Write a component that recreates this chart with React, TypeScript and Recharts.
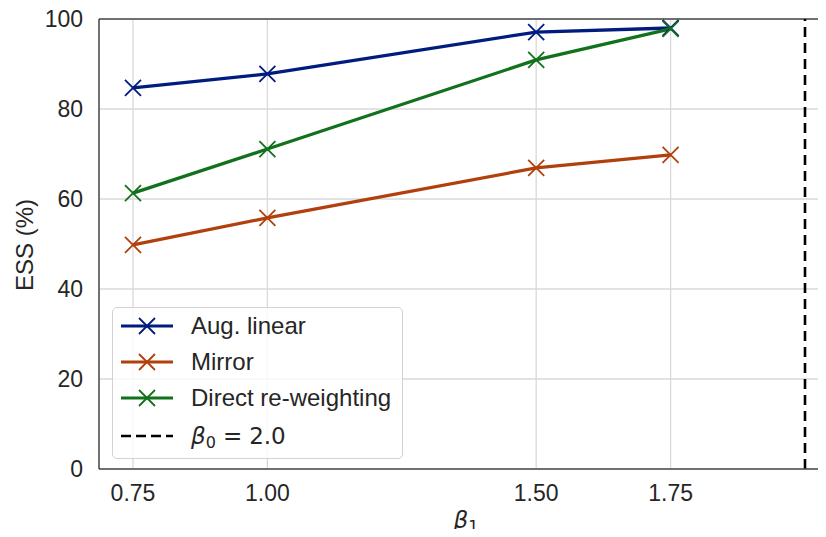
import React from 'react';
import { LineChart, Line, XAxis, YAxis, CartesianGrid, ReferenceLine, Legend } from 'recharts';

// beta_1 values on the x axis
const betas = [0.75, 1.0, 1.5, 1.75];
// ESS (%) per method
const augLinear = [84.7, 87.8, 97.1, 98.0];
const mirror = [49.8, 55.8, 66.9, 69.8];
const direct = [61.3, 71.1, 90.9, 97.8];

const xTicks = [0.75, 1.0, 1.5, 1.75];
const yTicks = [0, 20, 40, 60, 80, 100];
const beta0 = 2.0;

const series = [
  { key: 'aug', name: 'Aug. linear', color: '#001c7f' },
  { key: 'mirror', name: 'Mirror', color: '#b1400d' },
  { key: 'direct', name: 'Direct re-weighting', color: '#12711c' },
];

const data = betas.map((b, i) => ({
  beta: b,
  aug: augLinear[i],
  mirror: mirror[i],
  direct: direct[i],
}));

const FONT = '"Liberation Sans", Arial, sans-serif';
const MATH = '"DejaVu Sans", sans-serif';
const TEXT = '#262626';
const SPINE = '#4a4a4a';

const crossDot = (color: string) => (props: any) => {
  const { cx, cy, index } = props;
  if (cx == null || cy == null) return <g key={`d-${index}`} />;
  const r = 8;
  return (
    <path
      key={`d-${index}`}
      d={`M${cx - r},${cy - r}L${cx + r},${cy + r}M${cx - r},${cy + r}L${cx + r},${cy - r}`}
      stroke={color}
      strokeWidth={1.8}
      fill="none"
    />
  );
};

const subStyle: React.CSSProperties = {
  fontSize: 16,
  position: 'relative',
  top: 4,
  verticalAlign: 'baseline',
  fontStyle: 'normal',
  fontFamily: MATH,
};

const LegendBox = () => (
  <div
    style={{
      width: 291,
      boxSizing: 'border-box',
      border: '1px solid #d2d2d2',
      borderRadius: 5,
      background: 'rgba(255,255,255,0.8)',
      padding: '0 0 2px 0',
      fontFamily: FONT,
      fontSize: 24,
      color: TEXT,
    }}
  >
    {series.map((s) => (
      <div key={s.key} style={{ display: 'flex', alignItems: 'center', height: 36 }}>
        <svg width={52} height={20} style={{ marginLeft: 8, marginRight: 18 }}>
          <line x1={0} y1={10} x2={52} y2={10} stroke={s.color} strokeWidth={3.2} />
          <path d="M18,2L34,18M18,18L34,2" stroke={s.color} strokeWidth={1.8} fill="none" />
        </svg>
        <span>{s.name}</span>
      </div>
    ))}
    <div style={{ display: 'flex', alignItems: 'center', height: 40 }}>
      <svg width={52} height={20} style={{ marginLeft: 8, marginRight: 18 }}>
        <line x1={0} y1={10} x2={52} y2={10} stroke="#000" strokeWidth={2.6} strokeDasharray="10 5" />
      </svg>
      <span style={{ lineHeight: 1, fontFamily: MATH, fontSize: 23 }}>
        <i>β</i>
        <span style={subStyle}>0</span>
        <span style={{ margin: '0 7px' }}>=</span>2.0
      </span>
    </div>
  </div>
);

const App = () => {
  return (
    <div style={{ position: 'relative', margin: -8, width: 826, height: 537, overflow: 'hidden' }}>
      <LineChart
        width={826}
        height={537}
        data={data}
        margin={{ top: 19, right: 1, bottom: 0, left: 0 }}
      >
        <CartesianGrid stroke="#d9d9d9" strokeWidth={1.3} />
        <XAxis
          dataKey="beta"
          type="number"
          domain={[0.6868, 2.0372]}
          allowDataOverflow
          ticks={xTicks}
          tickFormatter={(v: number) => v.toFixed(2)}
          height={68}
          tickLine={false}
          tickSize={0}
          tickMargin={16}
          axisLine={{ stroke: SPINE, strokeWidth: 1.5 }}
          tick={{ fill: TEXT, fontSize: 23, fontFamily: FONT }}
        />
        <YAxis
          type="number"
          domain={[0, 100]}
          ticks={yTicks}
          width={99}
          tickLine={false}
          tickSize={0}
          tickMargin={16}
          axisLine={{ stroke: SPINE, strokeWidth: 1.5 }}
          tick={{ fill: TEXT, fontSize: 23, fontFamily: FONT }}
        />
        <ReferenceLine y={100} stroke={SPINE} strokeWidth={1.5} />
        <ReferenceLine x={beta0} stroke="#000" strokeWidth={2.6} strokeDasharray="10 6" />
        {series.map((s) => (
          <Line
            key={s.key}
            dataKey={s.key}
            name={s.name}
            stroke={s.color}
            strokeWidth={3.3}
            dot={crossDot(s.color)}
            activeDot={false}
            isAnimationActive={false}
          />
        ))}
        <Legend
          layout="vertical"
          align="center"
          verticalAlign="middle"
          content={() => <LegendBox />}
          wrapperStyle={{ left: 112, top: 307, width: 291 }}
        />
      </LineChart>
      <div
        style={{
          position: 'absolute',
          left: 25,
          top: 245,
          transform: 'translate(-50%, -50%) rotate(-90deg)',
          fontFamily: FONT,
          fontSize: 24,
          color: TEXT,
          whiteSpace: 'nowrap',
        }}
      >
        ESS (%)
      </div>
      <div
        style={{
          position: 'absolute',
          left: 466,
          top: 508,
          lineHeight: '24px',
          transform: 'translateX(-50%)',
          fontFamily: MATH,
          fontSize: 23,
          color: TEXT,
          whiteSpace: 'nowrap',
        }}
      >
        <i>β</i>
        <span style={subStyle}>1</span>
      </div>
    </div>
  );
};

export default App;
